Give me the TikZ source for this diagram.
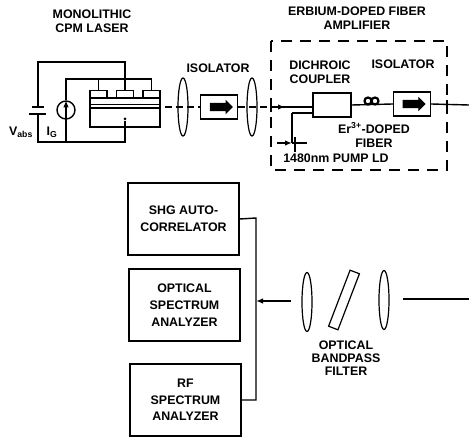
\documentclass[tikz,border=0pt]{standalone}
\usepackage{fontspec}
\setmainfont{Liberation Sans}
\usetikzlibrary{positioning,shapes.geometric,shapes.arrows,arrows.meta}

\begin{document}
\begin{tikzpicture}[x=1pt,y=-1pt,node distance=14pt,line width=1.4pt,>={Latex[length=7pt,width=5.5pt]}]
  \tikzstyle{box}=[draw,minimum width=111pt,minimum height=72pt,align=center,inner sep=0pt]
  \tikzstyle{isobox}=[draw,minimum width=37pt,minimum height=24pt,inner sep=0pt]
  \tikzstyle{lens}=[draw,ellipse,line width=1.2pt,minimum width=10pt,minimum height=58pt,inner sep=0pt]
  \tikzstyle{contact}=[draw,minimum width=17pt,minimum height=8pt,inner sep=0pt]
  \tikzstyle{fatarrow}=[fill=black,single arrow,minimum height=23pt,single arrow head extend=3pt,inner sep=0pt]
  \tikzstyle{lbl}=[font=\fontsize{12.4}{14}\selectfont\bfseries,align=center,inner sep=0pt]
  \tikzstyle{wide}=[font=\fontsize{12.4}{16.7}\selectfont\bfseries]
  \useasboundingbox (0,0) rectangle (469,438);

  % laser
  \node[draw,minimum width=70pt,minimum height=29pt,inner sep=0pt] (chip) at (125,112.5) {};
  \node[contact] (padl) at (98.5,94.5) {};
  \node[contact] (padm) at (125,94.5) {};
  \node[contact] (padr) at (151.5,94.5) {};
  \draw[line width=1pt] (chip.west |- 0,105) -- (chip.east |- 0,105);
  \draw[line width=1.6pt] (chip.west |- 0,108) -- (chip.east |- 0,108);
  \node[fill=black,circle,minimum size=3pt,inner sep=0pt] (sub) at (125,119) {};

  % bias
  \node[draw,circle,minimum size=18pt,inner sep=0pt] (src) at (66,110) {};
  \coordinate (plusv) at (38,107);
  \coordinate (minusv) at (38,114);
  \coordinate (topl) at (38,62);
  \coordinate (botl) at (38,142);
  \coordinate (srctop) at (66,79);
  \coordinate (srcbot) at (66,142);
  \draw[line width=1.8pt] (32,107) -- (44,107);
  \draw[line width=1.8pt] (29,114) -- (46,114);
  \draw (plusv) -- (topl) -| (padm.north);
  \draw (minusv) -- (botl) -| (sub);
  \draw (src.north) -- (srctop) -| (padr.north);
  \draw (srctop -| padl.north) -- (padl.north);
  \draw (src.south) -- (srcbot);
  \draw[->] (src.south) -- (src.north);
  \node[lbl] (vabs) at (21,132) {V\textsubscript{abs}};
  \node[lbl] (ig) at (52,132) {I\textsubscript{G}};

  % beam path
  \node[lens] (lensa) at (183,107) {};
  \node[isobox,right=0pt of lensa.center,xshift=17pt] (isoa) {};
  \node[fatarrow] (arra) at (isoa.center) {\rule{0pt}{7pt}};
  \node[lens] (lensb) at (252,107) {};
  \coordinate (chipout) at (165,107);
  \coordinate (ampin) at (271,107);
  \draw[dashed,dash pattern=on 7pt off 4pt] (chipout) -- (isoa.west);
  \draw[dashed,dash pattern=on 7pt off 4pt] (isoa.east) -- (ampin);

  % amplifier
  \draw[dashed,dash pattern=on 11pt off 8pt] (271,41) rectangle (447,170);
  \node[draw,minimum width=38pt,minimum height=24pt,inner sep=0pt] (coupler) at (332,105) {};
  \node[isobox] (isob) at (412,104) {};
  \node[fatarrow] (arrb) at (isob.center) {\rule{0pt}{7pt}};
  \coordinate (out) at (469,105);
  \coordinate (pump) at (292,143);
  \draw (ampin) -- (coupler.west |- ampin);
  \draw[->] (ampin) -- (285,107);
  \draw (292,113) -- (coupler.west |- 0,113);
  \draw (292,113) -- (pump);
  \draw (coupler.east) -- (isob.west);
  \draw[line width=2.2pt] (368,101) circle (3.5pt) (375,101) circle (3.5pt);
  \draw (isob.east) -- (out);
  \draw (447,100) -- (447,110);
  \draw (271,102) -- (271,112);
  \draw[->] (277,143) -- (pump);
  \draw (pump) -- (307,143);
  \draw (295,137) -- (295,152);

  % filter
  \node[lens,minimum height=59pt] (lensc) at (384,300) {};
  \node[draw,line width=1.2pt,minimum width=60pt,minimum height=10pt,inner sep=0pt,rotate=69] (bpf) at (344,300) {};
  \node[lens,minimum height=59pt] (lensd) at (307,302) {};
  \coordinate (ret) at (469,299);
  \coordinate (filtout) at (291,301);
  \coordinate (bustop) at (256,218);
  \coordinate (busbot) at (256,400);
  \draw (ret) -- (403,299);

  % instruments
  \node[box] (shg) at (183.5,219) {};
  \node[box,below=12.6pt of shg,xshift=1pt] (osa) {};
  \node[box,below=21.6pt of osa,xshift=1pt] (rfa) {};
  \draw (shg.east) -- (bustop) -- (busbot) -- (rfa.east);
  \draw[->] (filtout) -- (bustop |- filtout);

  % labels
  \node[lbl] at (92,21) {MONOLITHIC\\CPM LASER};
  \node[lbl] at (218,68) {ISOLATOR};
  \node[lbl] at (357,18) {ERBIUM-DOPED FIBER\\AMPLIFIER};
  \node[lbl] at (320,72) {DICHROIC\\COUPLER};
  \node[lbl] at (403,64) {ISOLATOR};
  \node[lbl] at (374,135) {Er\textsuperscript{3+}-DOPED\\FIBER};
  \node[lbl] at (336,158) {1480nm PUMP LD};
  \node[lbl,wide] at (shg.center) {SHG AUTO-\\CORRELATOR};
  \node[lbl,wide] at (osa.center) {OPTICAL\\SPECTRUM\\ANALYZER};
  \node[lbl,wide] at (rfa.center) {RF\\SPECTRUM\\ANALYZER};
  \node[lbl,font=\fontsize{12.4}{12.8}\selectfont\bfseries] at (346,358) {OPTICAL\\BANDPASS\\FILTER};
\end{tikzpicture}
\end{document}
